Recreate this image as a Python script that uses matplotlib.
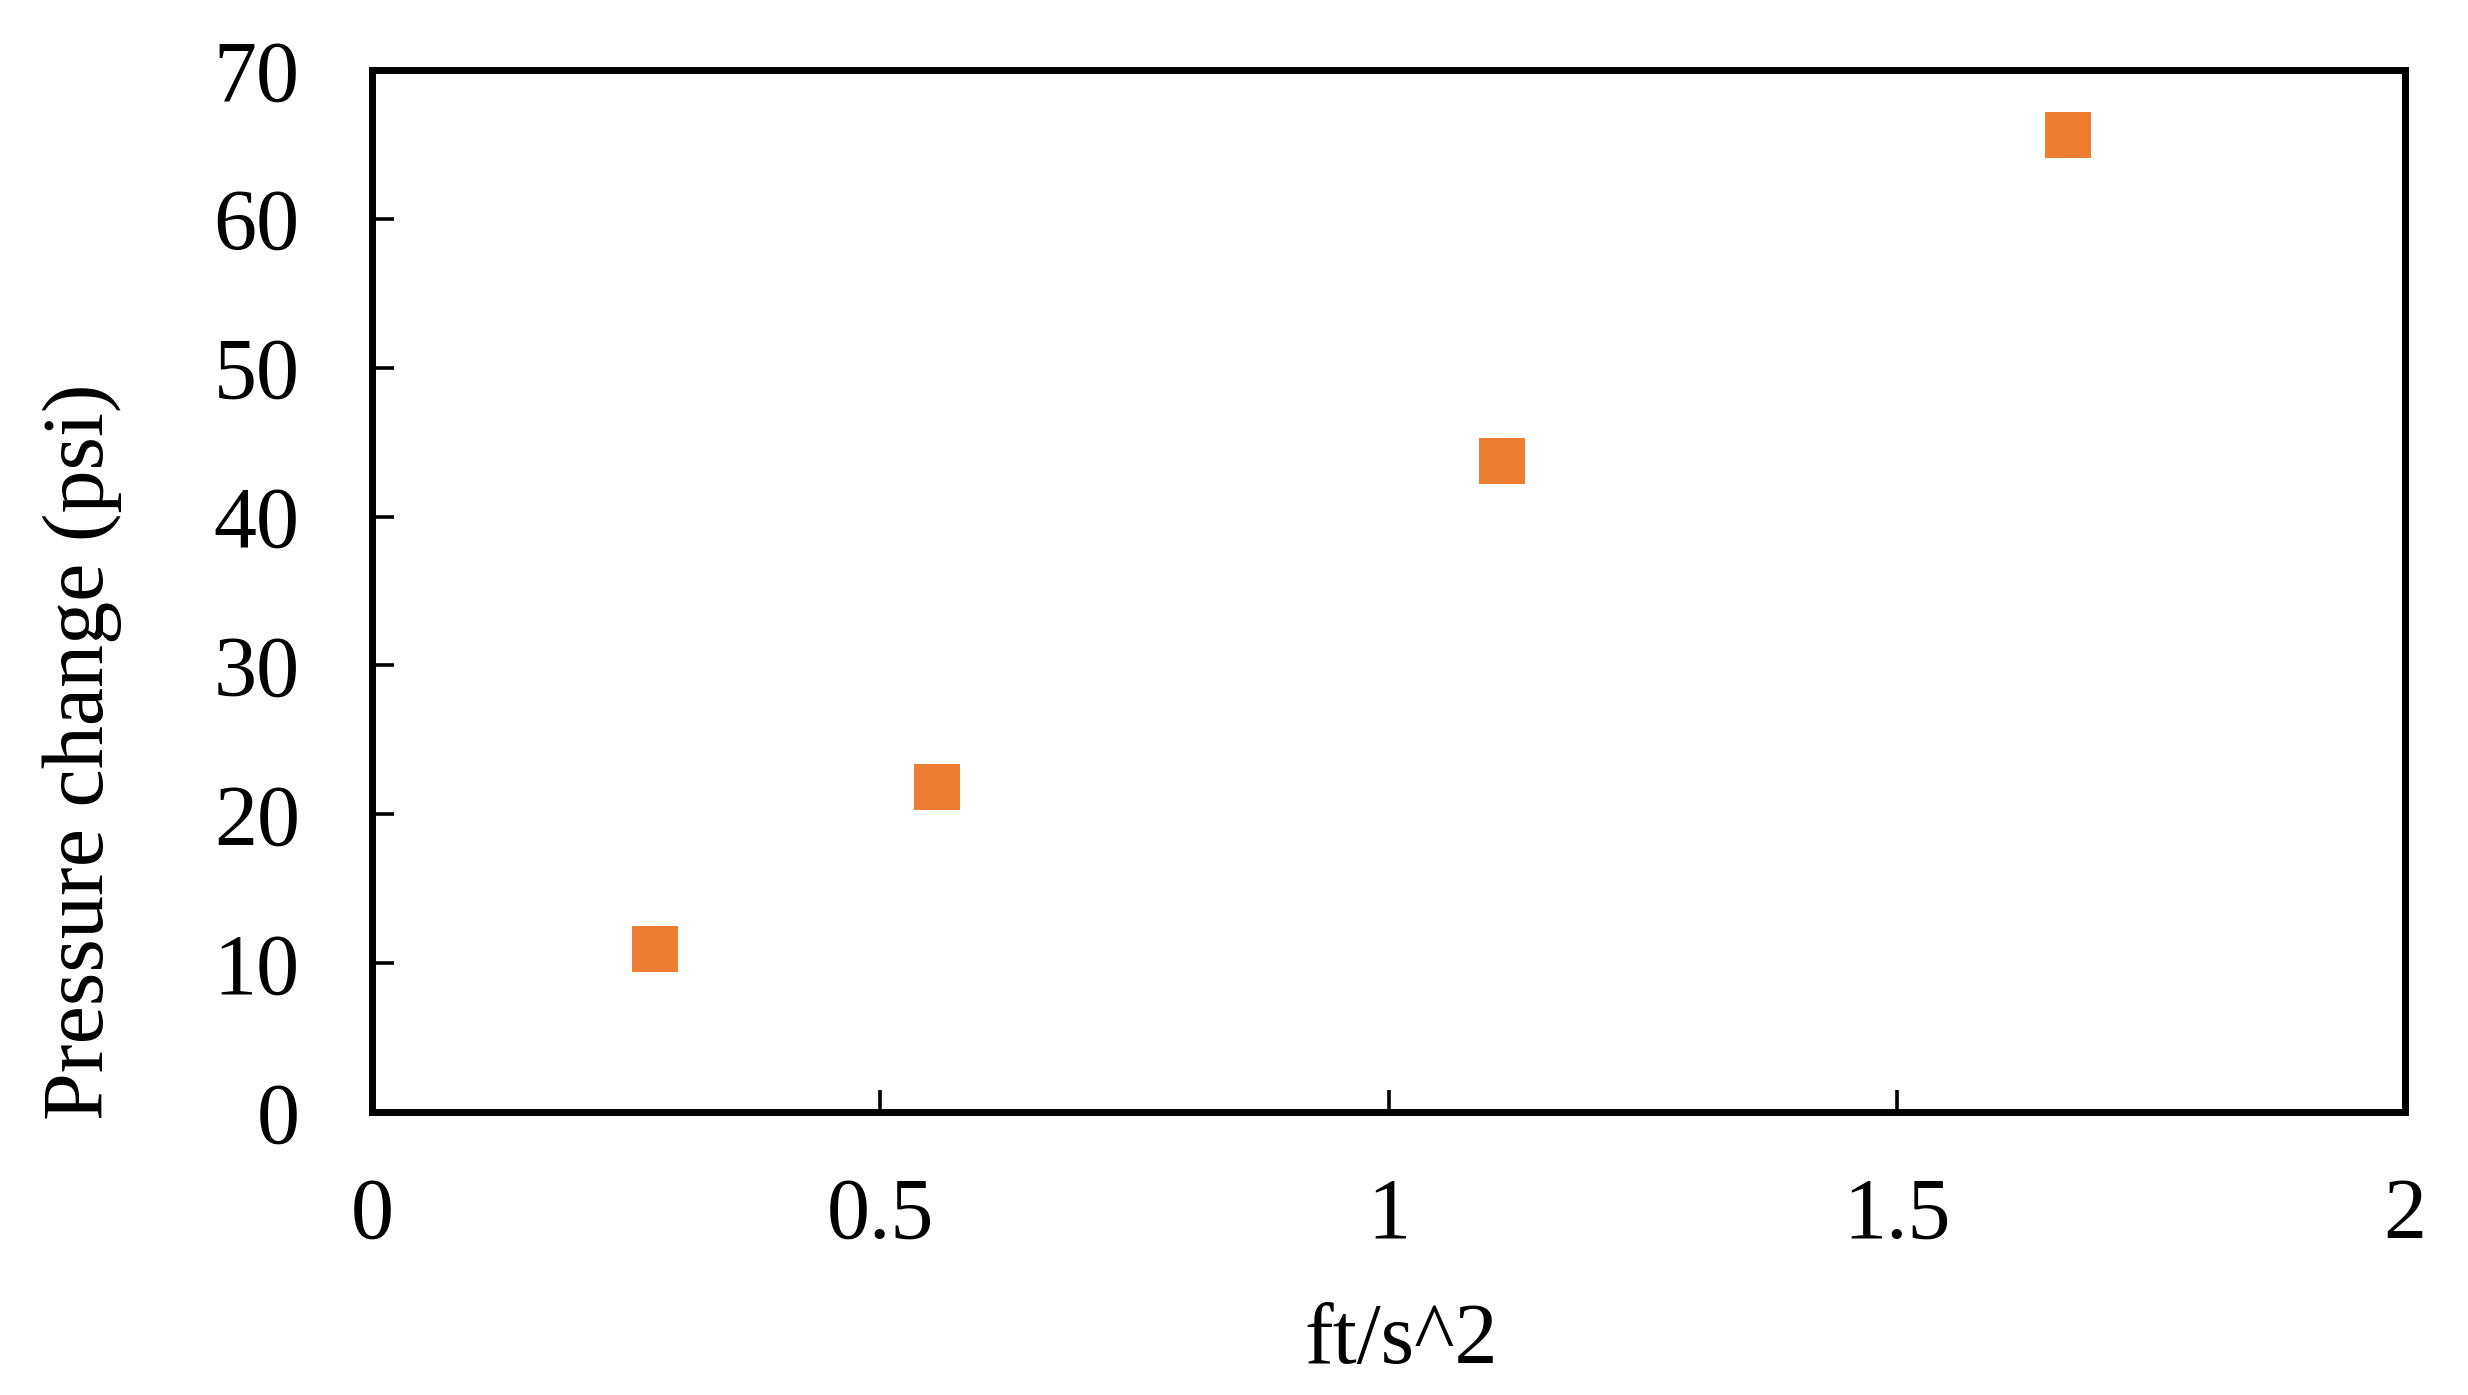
import matplotlib
matplotlib.use("Agg")
import matplotlib.pyplot as plt

# Data
accel = [0.278, 0.556, 1.112, 1.668]          # ft/s^2
pressure = [10.97, 21.85, 43.70, 65.63]        # psi
xticks = [0, 0.5, 1, 1.5, 2]
xticklabels = ["0", "0.5", "1", "1.5", "2"]
yticks = [0, 10, 20, 30, 40, 50, 60, 70]
yticklabels = ["0", "10", "20", "30", "40", "50", "60", "70"]

plt.rcParams['font.family'] = ['Liberation Serif', 'DejaVu Serif']

W, H = 2468, 1395
fig = plt.figure(figsize=(W / 100, H / 100), dpi=100)
ax = fig.add_axes([372 / W, 1 - 1112 / H, (2405 - 372) / W, (1112 - 70) / H])

ax.plot(accel, pressure, linestyle='none', marker='s', markersize=33,
        color='#ED7D31', markeredgewidth=0)

ax.set_xlim(0, 2)
ax.set_ylim(0, 70)
ax.set_xticks(xticks)
ax.set_xticklabels(xticklabels)
ax.set_yticks(yticks)
ax.set_yticklabels(yticklabels)

for s in ax.spines.values():
    s.set_linewidth(5)
    s.set_color('black')

ax.tick_params(axis='both', direction='in', length=16, width=2.6,
               labelsize=62, color='black')
ax.tick_params(axis='y', pad=52)
ax.tick_params(axis='x', pad=47)

fig.text(1401 / W, 1 - 1363 / H, "ft/s^2", fontsize=62, ha='center',
         va='baseline')
fig.text(82 / W, 1 - 752 / H, "Pressure change (psi)", fontsize=62,
         rotation=90, ha='center', va='center')

fig.savefig("out.png", dpi=100)
